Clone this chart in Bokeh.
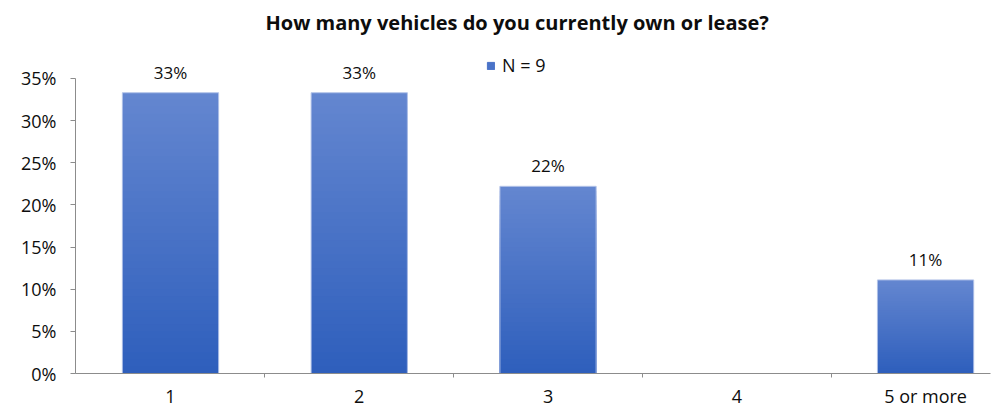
from bokeh.plotting import figure
from bokeh.models import (ColumnDataSource, FixedTicker, NumeralTickFormatter,
                          Legend, LegendItem, Range1d)
from bokeh.embed import file_html
from bokeh.resources import INLINE
from bokeh.core.properties import value

categories = ["1", "2", "3", "4", "5 or more"]
shares = [0.333, 0.333, 0.222, 0.0, 0.111]
labels = ["33%", "33%", "22%", "", "11%"]
series_name = "N = 9"
title_text = "How many vehicles do you currently own or lease?"
y_ticks = [0, 0.05, 0.10, 0.15, 0.20, 0.25, 0.30, 0.35]

FONT = "Open Sans"
TXT = "#0d0d0d"
AX = "#8c8c8c"

xs = list(range(1, len(categories) + 1))

p = figure(width=992, height=411, output_backend="svg", toolbar_location=None,
           x_range=Range1d(0.4967, 5.344), y_range=Range1d(0, 0.39375),
           min_border_left=75, min_border_right=2, min_border_top=40, min_border_bottom=38,
           title=title_text)
p.outline_line_color = None
p.grid.grid_line_color = None
p.title.align = "left"
p.title.offset = 190
p.title.text_font = FONT
p.title.text_font_style = "bold"
p.title.text_font_size = "20px"
p.title.text_color = TXT
p.title.standoff = 12

# gradient bars: overlapping bands derived from each bar's value (light top, dark bottom)
n = 40
top_c = (0x64, 0x87, 0xd0)
bot_c = (0x2e, 0x5e, 0xbc)
bx, bt, bc = [], [], []
for k in range(n - 1, -1, -1):
    f = (k + 0.5) / n
    c = "#%02x%02x%02x" % tuple(int(round(bot_c[j] + (top_c[j] - bot_c[j]) * f)) for j in range(3))
    for x, v in zip(xs, shares):
        if v <= 0:
            continue
        bx.append(x)
        bt.append(v * (k + 1) / n)
        bc.append(c)
band_src = ColumnDataSource(dict(x=bx, top=bt, color=bc))
p.vbar(x="x", bottom=0, top="top", width=0.51, fill_color="color",
       line_color=None, source=band_src)

src = ColumnDataSource(dict(x=xs, top=shares, label=labels))
p.vbar(x="x", top="top", width=0.51, fill_color=None, line_color="#b3c3e8",
       line_width=1, source=src)

p.text(x="x", y="top", text="label", source=src, text_align="center",
       text_baseline="bottom", y_offset=-9, text_font=value(FONT),
       text_font_size="17px", text_color=TXT)

# axes
p.yaxis.ticker = FixedTicker(ticks=y_ticks)
p.yaxis.bounds = (0, 0.35)
p.yaxis.formatter = NumeralTickFormatter(format="0%")
p.yaxis.axis_line_color = AX
p.yaxis.major_tick_line_color = AX
p.yaxis.major_tick_out = 5
p.yaxis.major_tick_in = 0
p.yaxis.minor_tick_line_color = None
p.yaxis.major_label_text_font = FONT
p.yaxis.major_label_text_font_size = "18px"
p.yaxis.major_label_text_color = TXT
p.yaxis.major_label_standoff = 14

p.xaxis.ticker = FixedTicker(ticks=xs, minor_ticks=[1.5, 2.5, 3.5, 4.5])
p.xaxis.major_label_overrides = {x: c for x, c in zip(xs, categories)}
p.xaxis.axis_line_color = AX
p.xaxis.major_tick_line_color = None
p.xaxis.minor_tick_line_color = AX
p.xaxis.minor_tick_out = 4
p.xaxis.minor_tick_in = 0
p.xaxis.major_label_text_font = FONT
p.xaxis.major_label_text_font_size = "18px"
p.xaxis.major_label_text_color = TXT
p.xaxis.major_label_standoff = 4

# legend with a solid swatch
legend_glyph = p.vbar(x=[-10], top=[0], width=0.5, fill_color="#4a73c8", line_color="#4a73c8")
legend = Legend(items=[LegendItem(label=series_name, renderers=[legend_glyph])],
                location=(411, 296), orientation="horizontal",
                border_line_color=None, background_fill_alpha=0,
                glyph_width=9, glyph_height=9, label_height=18, label_text_font=FONT,
                label_text_font_size="18px", label_text_color=TXT,
                padding=0, margin=0, label_standoff=7)
p.add_layout(legend, "center")

open("out.html", "w").write(file_html(p, INLINE))
